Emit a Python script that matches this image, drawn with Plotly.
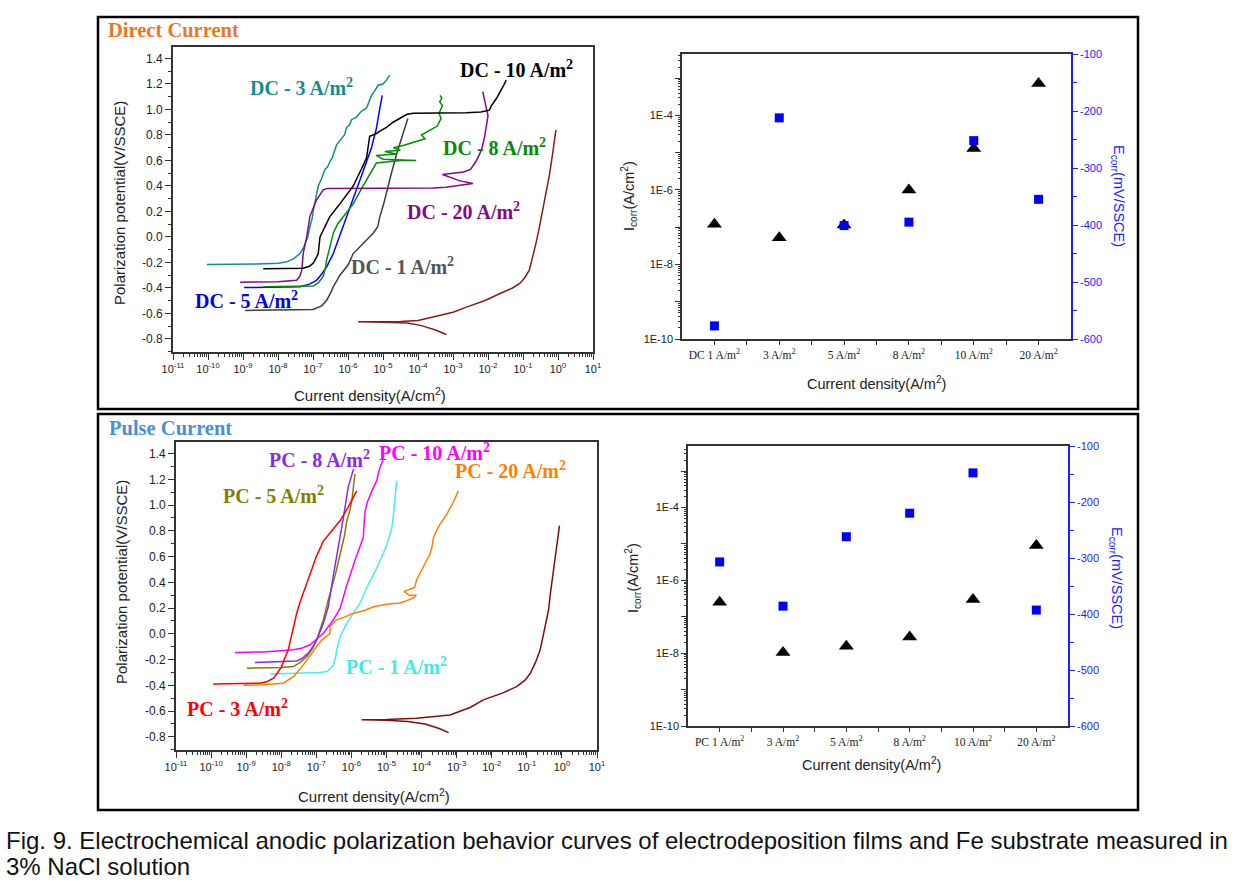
import numpy as np
import plotly.graph_objects as go

W, H = 1239, 891

# ---------------- DATA ----------------
# Direct current polarization curves: log10(current density, A/cm2) and potential (V/SSCE)
dc1_logi = [-8.94, -8.0, -7.0, -6.75, -6.61, -6.5, -6.42, -6.23, -6.0, -5.85, -5.7, -5.57, -5.4, -5.28, -5.15, -5.09, -4.98, -4.9, -4.76, -4.6, -4.45, -4.29]
dc1_E = [-0.576, -0.574, -0.568, -0.54, -0.497, -0.44, -0.39, -0.30, -0.22, -0.13, -0.09, -0.05, -0.01, 0.03, 0.08, 0.16, 0.26, 0.35, 0.50, 0.66, 0.80, 0.93]

dc3_logi = [-10.03, -9.0, -8.6, -8.0, -7.75, -7.55, -7.37, -7.28, -7.23, -7.15, -7.09, -7.02, -6.99, -6.92, -6.85, -6.75, -6.66, -6.58, -6.52, -6.45, -6.4, -6.33, -6.25, -6.2, -6.1, -6.04, -5.95, -5.9, -5.76, -5.7, -5.6, -5.47, -5.42, -5.33, -5.25, -5.2, -5.14, -5.0, -4.9, -4.81]
dc3_E = [-0.216, -0.214, -0.212, -0.205, -0.195, -0.17, -0.13, -0.09, -0.06, 0.0, 0.08, 0.15, 0.21, 0.3, 0.4, 0.46, 0.53, 0.55, 0.59, 0.62, 0.66, 0.72, 0.75, 0.77, 0.80, 0.86, 0.88, 0.92, 0.94, 0.96, 0.99, 1.01, 1.05, 1.11, 1.14, 1.16, 1.19, 1.20, 1.23, 1.27]

dc5_logi = [-8.97, -8.0, -7.37, -7.1, -6.9, -6.75, -6.61, -6.42, -6.14, -5.85, -5.57, -5.47, -5.33, -5.19, -5.09, -5.02]
dc5_E = [-0.397, -0.396, -0.39, -0.37, -0.34, -0.29, -0.235, -0.13, 0.08, 0.29, 0.5, 0.59, 0.70, 0.85, 1.01, 1.11]

dc8_logi = [-8.42, -7.5, -6.99, -6.85, -6.71, -6.65, -6.61, -6.5, -6.42, -6.3, -6.14, -5.85, -5.57, -5.3, -5.19, -4.5, -4.05, -5.0, -5.2, -4.6, -4.95, -4.5, -4.7, -4.4, -4.05, -3.8, -3.9, -3.57, -3.45, -3.34, -3.4, -3.3, -3.38, -3.32, -3.37]
dc8_E = [-0.39, -0.388, -0.385, -0.36, -0.31, -0.25, -0.18, -0.06, 0.03, 0.1, 0.16, 0.26, 0.4, 0.53, 0.58, 0.60, 0.60, 0.61, 0.64, 0.65, 0.67, 0.68, 0.70, 0.72, 0.75, 0.77, 0.80, 0.85, 0.87, 0.93, 0.97, 1.03, 1.06, 1.09, 1.11]

dc10_logi = [-8.42, -7.5, -7.28, -7.1, -6.99, -6.9, -6.85, -6.8, -6.65, -6.52, -6.23, -5.85, -5.57, -5.47, -5.38, -5.2, -5.09, -4.9, -4.71, -4.5, -4.33, -4.14, -3.57, -3.0, -2.62, -2.2, -1.96, -1.9, -1.82, -1.75, -1.67, -1.6, -1.55, -1.48]
dc10_E = [-0.25, -0.248, -0.245, -0.23, -0.205, -0.16, -0.13, 0.0, 0.09, 0.16, 0.26, 0.4, 0.56, 0.62, 0.79, 0.81, 0.83, 0.86, 0.9, 0.93, 0.96, 0.97, 0.97, 0.972, 0.975, 0.98, 0.995, 1.03, 1.06, 1.09, 1.13, 1.16, 1.19, 1.23]

dc20_logi = [-9.08, -8.0, -7.47, -7.38, -7.32, -7.28, -7.18, -7.09, -6.9, -6.71, -6.6, -5.0, -4.0, -3.57, -3.2, -2.9, -2.6, -2.43, -2.8, -3.3, -3.0, -2.7, -2.5, -2.43, -2.35, -2.24, -2.17, -2.1, -2.05, -2.0, -2.08, -2.15]
dc20_E = [-0.355, -0.352, -0.34, -0.31, -0.26, -0.13, 0.0, 0.16, 0.29, 0.37, 0.38, 0.38, 0.38, 0.385, 0.39, 0.40, 0.41, 0.42, 0.44, 0.49, 0.50, 0.51, 0.53, 0.56, 0.59, 0.65, 0.70, 0.78, 0.85, 0.95, 1.05, 1.14]

fe_dc_logi = [-3.19, -3.5, -3.9, -4.3, -5.0, -5.71, -5.0, -4.5, -4.0, -3.57, -3.0, -2.62, -2.1, -1.67, -1.3, -1.1, -0.95, -0.82, -0.72, -0.63, -0.53, -0.44, -0.35, -0.25, -0.15, -0.06]
fe_dc_E = [-0.765, -0.73, -0.695, -0.675, -0.668, -0.665, -0.664, -0.662, -0.655, -0.628, -0.59, -0.55, -0.50, -0.445, -0.40, -0.366, -0.32, -0.26, -0.16, -0.05, 0.08, 0.21, 0.34, 0.48, 0.66, 0.84]

# Pulse current polarization curves
pc1_logi = [-8.32, -7.5, -6.9, -6.7, -6.6, -6.51, -6.45, -6.42, -6.32, -6.13, -5.94, -5.85, -5.75, -5.56, -5.28, -4.99, -4.85, -4.8, -4.75, -4.71]
pc1_E = [-0.311, -0.306, -0.30, -0.293, -0.27, -0.24, -0.18, -0.124, -0.02, 0.083, 0.16, 0.2, 0.24, 0.36, 0.51, 0.69, 0.82, 0.93, 1.06, 1.19]

pc3_logi = [-9.94, -9.0, -8.6, -8.4, -8.22, -8.1, -7.99, -7.9, -7.8, -7.72, -7.65, -7.56, -7.46, -7.3, -7.18, -7.0, -6.8, -6.55, -6.32, -6.1, -5.85]
pc3_E = [-0.39, -0.387, -0.383, -0.37, -0.345, -0.3, -0.254, -0.19, -0.124, -0.03, 0.057, 0.16, 0.25, 0.37, 0.46, 0.6, 0.72, 0.8, 0.88, 0.98, 1.11]

pc5_logi = [-8.98, -8.0, -7.65, -7.45, -7.27, -7.1, -6.99, -6.8, -6.66, -6.61, -6.45, -6.32, -6.2, -6.13, -6.05, -5.99, -5.95, -5.9]
pc5_E = [-0.267, -0.262, -0.254, -0.22, -0.176, -0.11, -0.047, 0.109, 0.264, 0.31, 0.47, 0.62, 0.76, 0.88, 0.95, 1.03, 1.13, 1.24]

pc8_logi = [-8.75, -8.0, -7.56, -7.4, -7.23, -7.1, -6.99, -6.8, -6.66, -6.51, -6.37, -6.23, -6.09, -5.94]
pc8_E = [-0.223, -0.218, -0.21, -0.19, -0.15, -0.1, -0.047, 0.083, 0.21, 0.46, 0.67, 0.9, 1.14, 1.28]

pc10_logi = [-9.32, -8.5, -7.65, -7.4, -7.18, -7.0, -6.8, -6.65, -6.51, -6.32, -6.13, -5.9, -5.7, -5.66, -5.64, -5.61, -5.55, -5.47, -5.4, -5.28, -5.2, -5.09]
pc10_E = [-0.145, -0.14, -0.124, -0.11, -0.085, -0.04, 0.005, 0.06, 0.109, 0.2, 0.38, 0.57, 0.72, 0.75, 0.85, 0.95, 1.02, 1.08, 1.12, 1.19, 1.28, 1.36]

pc20_logi = [-9.08, -8.5, -7.94, -7.8, -7.65, -7.45, -7.27, -7.1, -6.99, -6.85, -6.7, -6.62, -6.6, -6.62, -6.51, -6.42, -6.2, -5.94, -5.65, -5.37, -5.0, -4.61, -4.4, -4.23, -4.15, -4.35, -4.5, -4.2, -4.14, -4.0, -3.88, -3.76, -3.7, -3.66, -3.5, -3.28, -3.1, -2.95]
pc20_E = [-0.40, -0.395, -0.383, -0.36, -0.33, -0.27, -0.2, -0.14, -0.098, -0.05, -0.02, 0.0, 0.03, 0.06, 0.083, 0.109, 0.13, 0.16, 0.18, 0.21, 0.23, 0.24, 0.26, 0.28, 0.30, 0.30, 0.33, 0.36, 0.42, 0.49, 0.55, 0.62, 0.68, 0.75, 0.84, 0.93, 1.02, 1.11]

fe_pc_logi = [-3.23, -3.5, -3.9, -4.4, -5.0, -5.71, -5.0, -4.14, -3.19, -2.6, -2.24, -1.7, -1.29, -1.05, -0.9, -0.75, -0.62, -0.5, -0.38, -0.33, -0.19, -0.07]
fe_pc_E = [-0.767, -0.735, -0.70, -0.68, -0.67, -0.668, -0.665, -0.655, -0.63, -0.57, -0.513, -0.46, -0.41, -0.36, -0.306, -0.22, -0.124, 0.03, 0.187, 0.31, 0.59, 0.84]

# Corrosion current / potential summaries
dc_categories = ["DC 1 A/m<sup>2</sup>", "3 A/m<sup>2</sup>", "5 A/m<sup>2</sup>", "8 A/m<sup>2</sup>", "10 A/m<sup>2</sup>", "20 A/m<sup>2</sup>"]
pc_categories = ["PC 1 A/m<sup>2</sup>", "3 A/m<sup>2</sup>", "5 A/m<sup>2</sup>", "8 A/m<sup>2</sup>", "10 A/m<sup>2</sup>", "20 A/m<sup>2</sup>"]
dc_icorr = [1.2e-7, 5.2e-8, 1.15e-7, 1.0e-6, 1.3e-5, 7.2e-4]
dc_ecorr = [-577, -212, -401, -395, -252, -355]
pc_icorr = [2.5e-7, 1.05e-8, 1.56e-8, 2.8e-8, 3.0e-7, 9.1e-6]
pc_ecorr = [-307, -386, -262, -220, -148, -393]

x_decades = list(range(-11, 2))
ecorr_ticks = [-100, -200, -300, -400, -500, -600]
icorr_decades = list(range(-10, -2))
pot_ticks = [-0.8, -0.6, -0.4, -0.2, 0.0, 0.2, 0.4, 0.6, 0.8, 1.0, 1.2, 1.4]


def X(px):
    return px / W


def Y(py):
    return 1 - py / H


SANS = "Liberation Sans, Arial, sans-serif"
SERIF = "Liberation Serif, Times New Roman, serif"

fig = go.Figure()

dc_curves = [
    (dc3_logi, dc3_E, "#168C8C"),
    (dc1_logi, dc1_E, "#3C3C3C"),
    (dc5_logi, dc5_E, "#0000FF"),
    (dc8_logi, dc8_E, "#078A07"),
    (dc20_logi, dc20_E, "#820A82"),
    (dc10_logi, dc10_E, "#000000"),
    (fe_dc_logi, fe_dc_E, "#8B1A1A"),
]
for lg, e, c in dc_curves:
    fig.add_trace(go.Scatter(x=10 ** np.array(lg), y=e, mode="lines",
                             line=dict(color=c, width=1.5), xaxis="x", yaxis="y", showlegend=False))

pc_curves = [
    (pc1_logi, pc1_E, "#45EDED"),
    (pc20_logi, pc20_E, "#FF7F00"),
    (pc10_logi, pc10_E, "#FF00FF"),
    (pc5_logi, pc5_E, "#808000"),
    (pc8_logi, pc8_E, "#8A2BE2"),
    (pc3_logi, pc3_E, "#FF0000"),
    (fe_pc_logi, fe_pc_E, "#7A1010"),
]
for lg, e, c in pc_curves:
    fig.add_trace(go.Scatter(x=10 ** np.array(lg), y=e, mode="lines",
                             line=dict(color=c, width=1.5), xaxis="x2", yaxis="y2", showlegend=False))

cat_x = list(range(len(dc_categories)))
fig.add_trace(go.Scatter(x=cat_x, y=dc_icorr, mode="markers", xaxis="x3", yaxis="y3",
                         marker=dict(symbol="triangle-up", size=13, color="black"), showlegend=False))
fig.add_trace(go.Scatter(x=cat_x, y=dc_ecorr, mode="markers", xaxis="x3", yaxis="y4",
                         marker=dict(symbol="square", size=9, color="#0000FF"), showlegend=False))
fig.add_trace(go.Scatter(x=cat_x, y=pc_icorr, mode="markers", xaxis="x4", yaxis="y5",
                         marker=dict(symbol="triangle-up", size=13, color="black"), showlegend=False))
fig.add_trace(go.Scatter(x=cat_x, y=pc_ecorr, mode="markers", xaxis="x4", yaxis="y6",
                         marker=dict(symbol="square", size=9, color="#0000FF"), showlegend=False))

# axis helpers
log_major = [10.0 ** d for d in x_decades]
log_text = ["10<sup>%d</sup>" % d for d in x_decades]
log_minor = [k * 10.0 ** d for d in x_decades[:-1] for k in range(2, 10)]
pot_minor = [round(v + 0.1, 2) for v in pot_ticks[:-1]] + [-0.9]
pot_text = [("%.1f" % v) for v in pot_ticks]

ic_major = [10.0 ** d for d in icorr_decades]
ic_text = [("1E%d" % d) if d % 2 == 0 else "" for d in icorr_decades]
ic_minor = [k * 10.0 ** d for d in icorr_decades for k in range(2, 10)]

axcol = "#333333"


def left_xaxis(dom, anchor):
    return dict(domain=dom, anchor=anchor, type="log", range=[-11, 1], tickvals=log_major, ticktext=log_text,
                ticks="outside", ticklen=6, tickwidth=1.2, tickcolor=axcol, showline=True, linecolor=axcol,
                linewidth=1.6, mirror=True, showgrid=False, zeroline=False,
                tickfont=dict(family=SANS, size=11, color="#222"),
                minor=dict(tickvals=log_minor, ticks="outside", ticklen=3, tickcolor=axcol, showgrid=False))


def left_yaxis(dom, anchor):
    return dict(domain=dom, anchor=anchor, range=[-0.902, 1.49], tickvals=pot_ticks, ticktext=pot_text,
                ticks="outside", ticklen=6, tickwidth=1.2, tickcolor=axcol, showline=True, linecolor=axcol,
                linewidth=1.6, mirror=True, showgrid=False, zeroline=False,
                tickfont=dict(family=SANS, size=12, color="#222"),
                minor=dict(tickvals=pot_minor, ticks="outside", ticklen=3, tickcolor=axcol, showgrid=False))


def cat_xaxis(dom, anchor, cats):
    return dict(domain=dom, anchor=anchor, range=[-0.5, 5.5], tickvals=cat_x, ticktext=cats,
                ticks="outside", ticklen=4, tickcolor=axcol, showline=True, linecolor=axcol, linewidth=1.6,
                mirror=True, showgrid=False, zeroline=False,
                tickfont=dict(family=SERIF, size=11.5, color="#222"),
                minor=dict(tickvals=[v + 0.5 for v in cat_x[:-1]], ticks="outside", ticklen=4,
                           tickcolor=axcol, showgrid=False))


def icorr_yaxis(dom, anchor, top):
    return dict(domain=dom, anchor=anchor, type="log", range=[-10, top], tickvals=ic_major, ticktext=ic_text,
                ticks="outside", ticklen=5, tickcolor=axcol, showline=True, linecolor=axcol, linewidth=1.6,
                showgrid=False, zeroline=False, tickfont=dict(family=SANS, size=11, color="#222"),
                minor=dict(tickvals=ic_minor, ticks="outside", ticklen=2, tickcolor=axcol, showgrid=False))


def ecorr_yaxis(over, anchor):
    return dict(overlaying=over, anchor=anchor, side="right", range=[-600, -100], tickvals=ecorr_ticks,
                ticktext=[str(v) for v in ecorr_ticks], ticks="outside", ticklen=5, tickcolor="#2020FF",
                showline=True, linecolor="#2020FF", linewidth=1.6, showgrid=False, zeroline=False,
                tickfont=dict(family=SANS, size=11, color="#2020FF"),
                minor=dict(tickvals=[-150, -250, -350, -450, -550], ticks="outside", ticklen=4,
                           tickcolor="#2020FF", showgrid=False))


fig.update_layout(
    width=W, height=H, margin=dict(l=0, r=0, t=0, b=0, autoexpand=False),
    paper_bgcolor="white", plot_bgcolor="white",
    xaxis=left_xaxis([X(173), X(593)], "y"),
    yaxis=left_yaxis([Y(352), Y(47)], "x"),
    xaxis2=left_xaxis([X(176), X(597)], "y2"),
    yaxis2=left_yaxis([Y(750), Y(442)], "x2"),
    xaxis3=cat_xaxis([X(682), X(1071)], "y3", dc_categories),
    yaxis3=icorr_yaxis([Y(339), Y(54)], "x3", -2.35),
    yaxis4=ecorr_yaxis("y3", "x3"),
    xaxis4=cat_xaxis([X(688), X(1068)], "y5", pc_categories),
    yaxis5=icorr_yaxis([Y(726), Y(446)], "x4", -2.31),
    yaxis6=ecorr_yaxis("y5", "x4"),
)

shapes = [
    dict(type="rect", xref="paper", yref="paper", x0=X(98), x1=X(1138), y0=Y(409), y1=Y(17),
         line=dict(color="black", width=2.5)),
    dict(type="rect", xref="paper", yref="paper", x0=X(98), x1=X(1138), y0=Y(810), y1=Y(414),
         line=dict(color="black", width=2.5)),
]
fig.update_layout(shapes=shapes)

ann = []


def add_text(text, px, py, size, color, family=SERIF, angle=0, xanchor="center"):
    ann.append(dict(text=text, x=X(px), y=Y(py), xref="paper", yref="paper", showarrow=False,
                    xanchor=xanchor, yanchor="middle", textangle=angle,
                    font=dict(family=family, size=size, color=color)))


# panel headings
add_text("<b>Direct Current</b>", 106, 30, 20.5, "#E8772A", xanchor="left")
add_text("<b>Pulse Current</b>", 107, 428, 20.5, "#4A8FD6", xanchor="left")

# DC curve labels
LS = 20
add_text("<b>DC - 3 A/m<sup>2</sup></b>", 301, 87, LS, "#168C8C")
add_text("<b>DC - 10 A/m<sup>2</sup></b>", 516, 69, LS, "#000000")
add_text("<b>DC - 8 A/m<sup>2</sup></b>", 494, 147, LS, "#078A07")
add_text("<b>DC - 20 A/m<sup>2</sup></b>", 463, 211, LS, "#820A82")
add_text("<b>DC - 1 A/m<sup>2</sup></b>", 402, 266, LS, "#555555")
add_text("<b>DC - 5 A/m<sup>2</sup></b>", 246, 300, LS, "#0000EE")

# PC curve labels
add_text("<b>PC - 8 A/m<sup>2</sup></b>", 320, 459, LS, "#8A2BE2")
add_text("<b>PC - 10 A/m<sup>2</sup></b>", 434, 452, LS, "#FF00FF")
add_text("<b>PC - 20 A/m<sup>2</sup></b>", 511, 470, LS, "#FF7F00")
add_text("<b>PC - 5 A/m<sup>2</sup></b>", 273, 495, LS, "#808000")
add_text("<b>PC - 1 A/m<sup>2</sup></b>", 396, 666, LS, "#40EAEA")
add_text("<b>PC - 3 A/m<sup>2</sup></b>", 237, 708, LS, "#FF0000")

# axis titles
add_text("Polarization potential(V/SSCE)", 120, 203, 15, "#222", SANS, -90)
add_text("Polarization potential(V/SSCE)", 121, 582, 15, "#222", SANS, -90)
add_text("Current density(A/cm<sup>2</sup>)", 370, 394, 15, "#222", SANS)
add_text("Current density(A/cm<sup>2</sup>)", 374, 795, 15, "#222", SANS)
add_text("I<sub>corr</sub>(A/cm<sup>2</sup>)", 629, 196, 14.5, "#222", SANS, -90)
add_text("I<sub>corr</sub>(A/cm<sup>2</sup>)", 633, 578, 14.5, "#222", SANS, -90)
add_text("E<sub>corr</sub>(mV/SSCE)", 1118, 196, 14.5, "#2020FF", SANS, 90)
add_text("E<sub>corr</sub>(mV/SSCE)", 1116, 578, 14.5, "#2020FF", SANS, 90)
add_text("Current density(A/m<sup>2</sup>)", 876, 383, 14.5, "#222", SANS)
add_text("Current density(A/m<sup>2</sup>)", 871, 764, 14.5, "#222", SANS)

# caption
add_text("Fig. 9. Electrochemical anodic polarization behavior curves of electrodeposition films and Fe substrate measured in",
         4, 840, 24, "#111", SANS, xanchor="left")
add_text("3% NaCl solution", 4, 866, 24, "#111", SANS, xanchor="left")

fig.update_layout(annotations=ann)

fig.write_html("out.html", config={"displayModeBar": False},
               post_script="document.body.style.margin='0px';document.body.style.overflow='hidden';")
